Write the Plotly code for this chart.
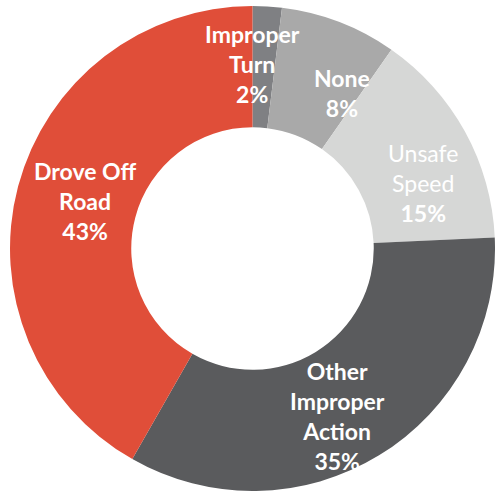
import plotly.graph_objects as go

# Contributing action shares (percent), clockwise from 12 o'clock
categories = ["Improper Turn", "None", "Unsafe Speed", "Other Improper Action", "Drove Off Road"]
shares = [2, 8, 15, 35, 43]
colors = ["#7f8083", "#a9a9a9", "#d6d7d6", "#5a5b5d", "#e04e39"]

# Label text shown on the ring
label_texts = [
    "<b>Improper<br>Turn<br>2%</b>",
    "<b>None<br>8%</b>",
    "Unsafe<br>Speed<br><b>15%</b>",
    "<b>Other<br>Improper<br>Action<br>35%</b>",
    "<b>Drove Off<br>Road<br>43%</b>",
]
# Label anchor points in pixels (x from left, y from top)
label_px = [(253, 64), (342, 93), (423, 183), (337, 416), (85, 201)]

W, H = 495, 494

fig = go.Figure(
    go.Pie(
        labels=categories,
        values=shares,
        marker=dict(colors=colors, line=dict(width=0)),
        hole=0.5,
        sort=False,
        direction="clockwise",
        rotation=0,
        textinfo="none",
        hoverinfo="label+percent",
        domain=dict(x=[10 / W, 1.0], y=[0.006, 0.988]),
        showlegend=False,
    )
)

for txt, (px, py) in zip(label_texts, label_px):
    fig.add_annotation(
        x=px / W,
        y=1 - py / H,
        xref="paper",
        yref="paper",
        text=txt,
        showarrow=False,
        xanchor="center",
        yanchor="middle",
        align="center",
        font=dict(family="Lato", size=23, color="white"),
    )

fig.update_layout(
    width=W,
    height=H,
    margin=dict(l=0, r=0, t=0, b=0),
    paper_bgcolor="white",
    plot_bgcolor="white",
)

fig.write_html("out.html")
